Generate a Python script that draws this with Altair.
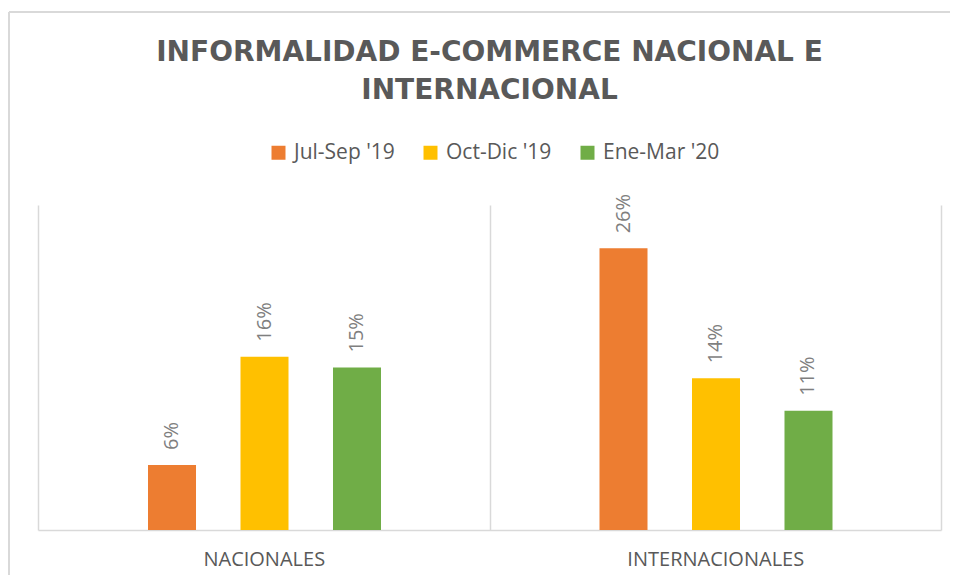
import altair as alt
import pandas as pd

categories = ["NACIONALES", "INTERNACIONALES"]
series = ["Jul-Sep '19", "Oct-Dic '19", "Ene-Mar '20"]
colors = ["#ED7D31", "#FFC000", "#70AD47"]
nacionales = [0.06, 0.16, 0.15]
internacionales = [0.26, 0.14, 0.11]

rows = []
for cat, vals in zip(categories, [nacionales, internacionales]):
    for s, v in zip(series, vals):
        rows.append({"categoria": cat, "serie": s, "valor": v})
df = pd.DataFrame(rows)

FONT = "Open Sans"
BORDER = "#d9d9d9"

base = alt.Chart(df).encode(
    x=alt.X(
        "categoria:N",
        sort=categories,
        title=None,
        scale=alt.Scale(paddingInner=0, paddingOuter=0),
        axis=alt.Axis(
            labelAngle=0,
            labelFontSize=20,
            labelColor="#595959",
            labelFont=FONT,
            labelPadding=19,
            ticks=False,
            domainColor=BORDER,
            domainWidth=1.5,
            grid=True,
            gridColor=BORDER,
            gridWidth=1.5,
            tickBand="extent",
        ),
    ),
    xOffset=alt.XOffset(
        "serie:N",
        sort=series,
        scale=alt.Scale(range=[110, 343], paddingInner=0.481, paddingOuter=0),
    ),
    y=alt.Y("valor:Q", scale=alt.Scale(domain=[0, 0.30]), axis=None),
)

bars = base.mark_bar().encode(
    color=alt.Color(
        "serie:N",
        sort=series,
        scale=alt.Scale(domain=series, range=colors),
        legend=alt.Legend(
            title=None,
            orient="none",
            legendX=230,
            legendY=-63,
            direction="horizontal",
            symbolType="square",
            symbolSize=196,
            symbolStrokeWidth=0,
            labelFontSize=21,
            labelColor="#595959",
            labelFont=FONT,
            columnPadding=25,
            labelOffset=5,
            padding=0,
        ),
    )
)

labels = base.mark_text(
    angle=270,
    align="left",
    baseline="middle",
    dx=15,
    fontSize=20,
    color="#7f7f7f",
    font=FONT,
).encode(text=alt.Text("valor:Q", format=".0%"))

# decorative chart-area frame (left and top edges, as in the reference)
frame_df = pd.DataFrame({"k": [0]})
frame_left = alt.Chart(frame_df).mark_rule(color=BORDER, strokeWidth=2).encode(
    x=alt.value(-29), y=alt.value(-193), y2=alt.value(380)
)
frame_top = alt.Chart(frame_df).mark_rule(color=BORDER, strokeWidth=2).encode(
    x=alt.value(-29), x2=alt.value(925), y=alt.value(-193)
)

chart = (
    alt.layer(bars, labels, frame_left, frame_top)
    .properties(
        width=903,
        height=325,
        title=alt.TitleParams(
            text=["INFORMALIDAD E-COMMERCE NACIONAL E", "INTERNACIONAL"],
            fontSize=28,
            font="DejaVu Sans",
            fontWeight="bold",
            color="#595959",
            anchor="middle",
            frame="group",
            lineHeight=38,
            offset=-94,
        ),
        autosize=alt.AutoSizeParams(type="none"),
        padding={"left": 30, "top": 197, "right": 9, "bottom": 45},
    )
    .configure_view(stroke=None)
)

chart.save("out.html", embed_options={"renderer": "svg", "actions": False})
